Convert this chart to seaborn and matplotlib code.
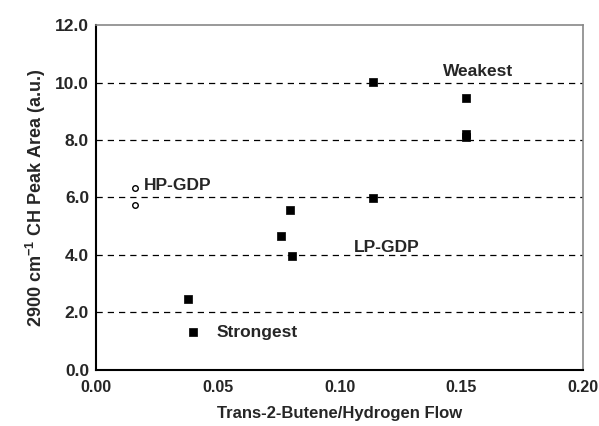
import matplotlib
matplotlib.use("Agg")
import matplotlib.pyplot as plt
import seaborn as sns
import pandas as pd
from matplotlib import font_manager as fm

sns.set_style("white")
names = {f.name for f in fm.fontManager.ttflist}
fam = "Liberation Sans Narrow" if "Liberation Sans Narrow" in names else "Liberation Sans"
plt.rcParams['font.family'] = [fam, 'DejaVu Sans']
plt.rcParams['font.weight'] = 'bold'
plt.rcParams['mathtext.fontset'] = 'custom'
plt.rcParams['mathtext.rm'] = fam + ':bold'
plt.rcParams['mathtext.bf'] = fam + ':bold'

# data
hp_flow = [0.0161, 0.0161]
hp_area = [6.34, 5.74]
lp_flow = [0.0379, 0.0400, 0.0760, 0.0798, 0.0804, 0.1138, 0.1138, 0.1520, 0.1520, 0.1520]
lp_area = [2.47, 1.31, 4.65, 5.55, 3.95, 10.02, 5.98, 9.45, 8.22, 8.12]
x_ticks = [0.00, 0.05, 0.10, 0.15, 0.20]
y_ticks = [0.0, 2.0, 4.0, 6.0, 8.0, 10.0, 12.0]

hp = pd.DataFrame({"flow": hp_flow, "area": hp_area})
lp = pd.DataFrame({"flow": lp_flow, "area": lp_area})

fig = plt.figure(figsize=(5.99, 4.26), dpi=100)
ax = fig.add_axes([0.1603, 0.1315, 0.813, 0.8098])

for y in y_ticks[1:-1]:
    ax.axhline(y, color='black', lw=0.9, ls=(0, (5, 4)), zorder=1)

sns.scatterplot(data=lp, x="flow", y="area", ax=ax, marker='s', s=30,
                color='black', edgecolor='black', linewidth=0.5, zorder=3)
sns.scatterplot(data=hp, x="flow", y="area", ax=ax, marker='o', s=16,
                facecolor='white', edgecolor='black', linewidth=1.0, zorder=3)

ax.set_xlim(0, 0.20)
ax.set_ylim(0, 12.0)
ax.set_xticks(x_ticks)
ax.set_xticklabels([f"{v:.2f}" for v in x_ticks], fontsize=11.5, fontweight='bold')
ax.set_yticks(y_ticks)
ax.set_yticklabels([f"{v:.1f}" for v in y_ticks], fontsize=12.5, fontweight='bold')
ax.tick_params(axis='both', direction='inout', length=4, width=1, color='black', pad=3)
ax.tick_params(axis='x', pad=5)

ax.set_xlabel("Trans-2-Butene/Hydrogen Flow", fontsize=12, fontweight='bold', labelpad=8)
ax.set_ylabel(r"2900 cm$^{\mathbf{-1}}$ CH Peak Area (a.u.)", fontsize=13, fontweight='bold', labelpad=5)

for side in ['left', 'bottom']:
    ax.spines[side].set_color('black')
    ax.spines[side].set_linewidth(1.5)
for side in ['top', 'right']:
    ax.spines[side].set_color('#888888')
    ax.spines[side].set_linewidth(1.2)

ax.text(0.0198, 6.40, "HP-GDP", fontsize=12.5, fontweight='bold', va='center', ha='left')
ax.text(0.1058, 4.25, "LP-GDP", fontsize=12.5, fontweight='bold', va='center', ha='left')
ax.text(0.1425, 10.40, "Weakest", fontsize=12.5, fontweight='bold', va='center', ha='left')
ax.text(0.0497, 1.30, "Strongest", fontsize=12.5, fontweight='bold', va='center', ha='left')

fig.savefig("out.png", dpi=100)
